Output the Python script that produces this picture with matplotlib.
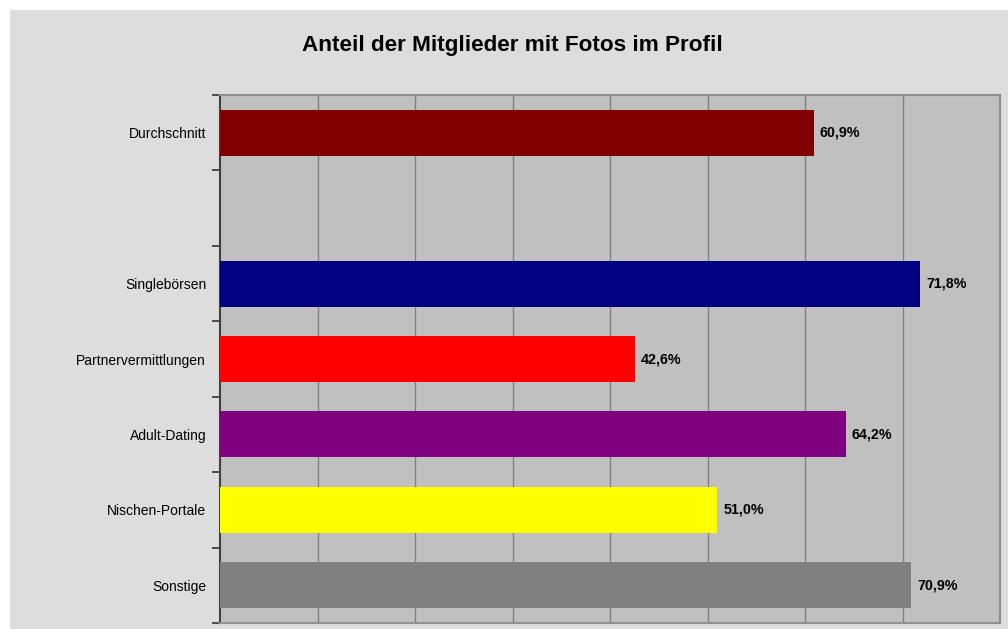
import matplotlib.pyplot as plt
from matplotlib.patches import Rectangle

plt.rcParams['font.family'] = ['Liberation Sans Narrow', 'Liberation Sans', 'DejaVu Sans']

categories = ['Durchschnitt', '', 'Singlebörsen', 'Partnervermittlungen',
              'Adult-Dating', 'Nischen-Portale', 'Sonstige']
values = [60.9, None, 71.8, 42.6, 64.2, 51.0, 70.9]
colors = ['#800000', None, '#000080', '#ff0000', '#800080', '#ffff00', '#808080']

W, H = 1008, 629
fig = plt.figure(figsize=(W / 100, H / 100), dpi=100, facecolor='white')
fig.patches.append(Rectangle((10 / W, 0), 1 - 10 / W, 1 - 10 / H,
                             transform=fig.transFigure, facecolor='#dddddd',
                             edgecolor='none', zorder=-10))

ax = fig.add_axes([220 / W, 1 - 623 / H, 780 / W, 528 / H])
ax.set_facecolor('#c0c0c0')

n = len(categories)
for i, (v, c) in enumerate(zip(values, colors)):
    if v is None:
        continue
    ax.barh(i, v, height=0.61, color=c, zorder=3)
    ax.text(v + 0.6, i, f'{v:.1f}%'.replace('.', ','), va='center', ha='left',
            fontsize=10.3, fontweight='bold', zorder=4)

ax.set_xlim(0, 80)
ax.set_ylim(n - 0.5, -0.5)
ax.set_xticks(range(10, 80, 10))
ax.xaxis.grid(True, color='#808080', linewidth=1)
ax.tick_params(axis='x', length=0, labelbottom=False)

ax.set_yticks(range(n))
ax.set_yticklabels(categories, fontsize=10)
ax.set_yticks([i - 0.5 for i in range(n + 1)], minor=True)
ax.tick_params(axis='y', which='major', length=0, pad=10)
ax.tick_params(axis='y', which='minor', length=6, width=1.2, color='#333333')

for s in ['top', 'right', 'bottom']:
    ax.spines[s].set_color('#909090')
    ax.spines[s].set_linewidth(1.5)
ax.spines['left'].set_color('#404040')
ax.spines['left'].set_linewidth(1.5)

fig.text(512 / W, 1 - 45 / H, 'Anteil der Mitglieder mit Fotos im Profil',
         ha='center', va='center', fontsize=16.2, fontweight='bold')

fig.savefig('out.png', dpi=100)
